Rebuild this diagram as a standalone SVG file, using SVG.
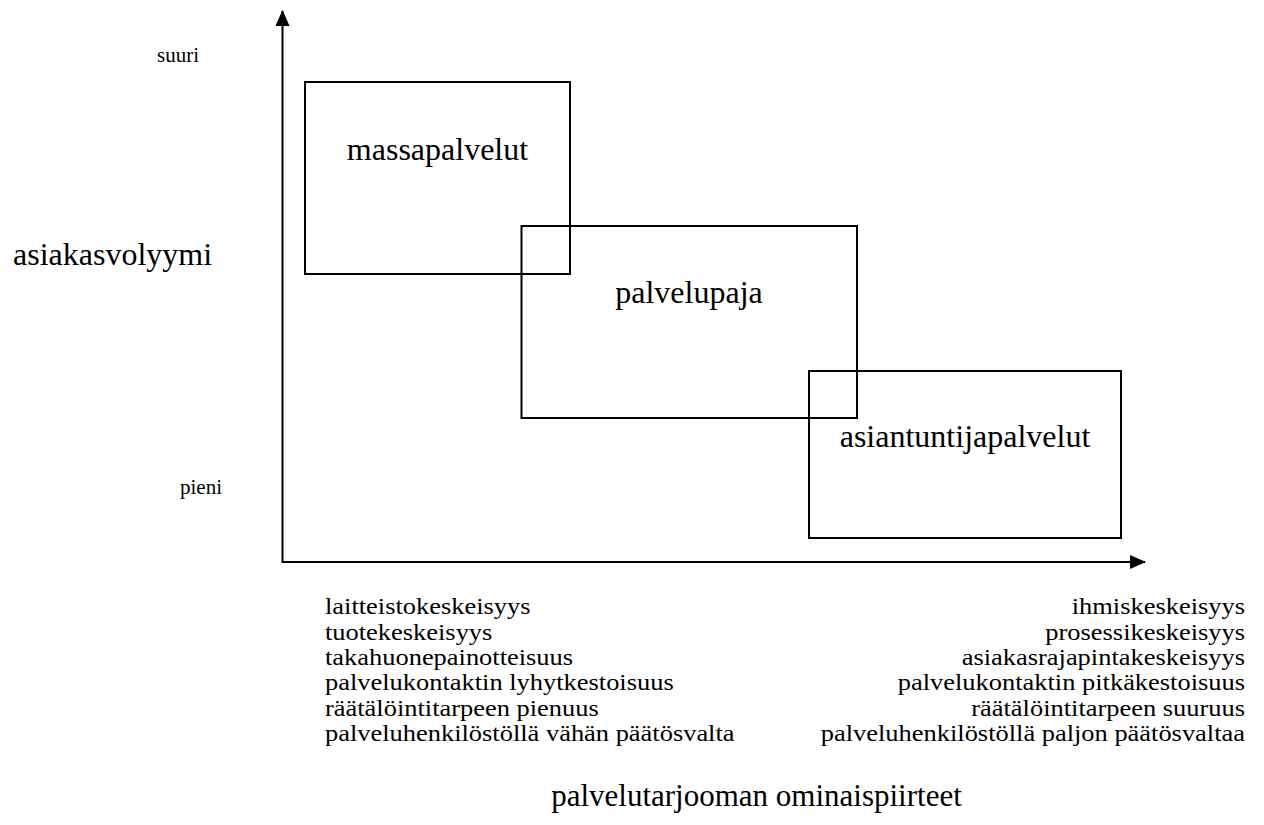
<svg xmlns="http://www.w3.org/2000/svg" width="1264" height="825" viewBox="0 0 1264 825" font-family="'Liberation Serif', 'Times New Roman', 'DejaVu Serif', serif">
  <style>
    .box { fill: none; stroke: #000; stroke-width: 2; }
    .axis { fill: none; stroke: #000; stroke-width: 2; }
    text { font-family: 'Liberation Serif', 'Times New Roman', 'DejaVu Serif', serif; fill: #000; }
    .big { font-size: 32px; }
    .title { font-size: 31px; }
    .small { font-size: 21px; }
    .item { font-size: 23px; }
  </style>
  <defs>
    <marker id="arrow" viewBox="0 0 16 14" refX="15" refY="7" markerWidth="16" markerHeight="14" markerUnits="userSpaceOnUse" orient="auto">
      <path d="M0,0 L16,7 L0,14 Z" fill="#000"/>
    </marker>
  </defs>

  <!-- axes -->
  <g id="connectors">
    <line class="axis" x1="282.5" y1="563" x2="282.5" y2="11" marker-end="url(#arrow)"/>
    <line class="axis" x1="282.5" y1="562" x2="1145" y2="562" marker-end="url(#arrow)"/>
  </g>

  <!-- vertical axis labels -->
  <g id="y-labels">
    <text class="small" x="157" y="62">suuri</text>
    <text class="big" x="13" y="265">asiakasvolyymi</text>
    <text class="small" x="180" y="494">pieni</text>
  </g>

  <!-- service types -->
  <g id="massapalvelut">
    <rect class="box" x="305" y="82" width="265" height="192"/>
    <text class="big" x="437.5" y="160" text-anchor="middle">massapalvelut</text>
  </g>
  <g id="palvelupaja">
    <rect class="box" x="521.5" y="226" width="335.5" height="192"/>
    <text class="big" x="689" y="303" text-anchor="middle">palvelupaja</text>
  </g>
  <g id="asiantuntijapalvelut">
    <rect class="box" x="809" y="371" width="312" height="167"/>
    <text class="big" x="965" y="447" text-anchor="middle">asiantuntijapalvelut</text>
  </g>

  <!-- horizontal axis characteristics (set slightly wide) -->
  <g id="x-left" transform="translate(325,0) scale(1.15,1)">
    <text class="item" x="0" y="614">laitteistokeskeisyys</text>
    <text class="item" x="0" y="640">tuotekeskeisyys</text>
    <text class="item" x="0" y="665">takahuonepainotteisuus</text>
    <text class="item" x="0" y="690">palvelukontaktin lyhytkestoisuus</text>
    <text class="item" x="0" y="716">räätälöintitarpeen pienuus</text>
    <text class="item" x="0" y="741">palveluhenkilöstöllä vähän päätösvalta</text>
  </g>
  <g id="x-right" text-anchor="end" transform="translate(1245,0) scale(1.15,1)">
    <text class="item" x="0" y="614">ihmiskeskeisyys</text>
    <text class="item" x="0" y="640">prosessikeskeisyys</text>
    <text class="item" x="0" y="665">asiakasrajapintakeskeisyys</text>
    <text class="item" x="0" y="690">palvelukontaktin pitkäkestoisuus</text>
    <text class="item" x="0" y="716">räätälöintitarpeen suuruus</text>
    <text class="item" x="0" y="741">palveluhenkilöstöllä paljon päätösvaltaa</text>
  </g>
  <g id="x-title">
    <text class="title" x="756.5" y="806" text-anchor="middle">palvelutarjooman ominaispiirteet</text>
  </g>
</svg>
